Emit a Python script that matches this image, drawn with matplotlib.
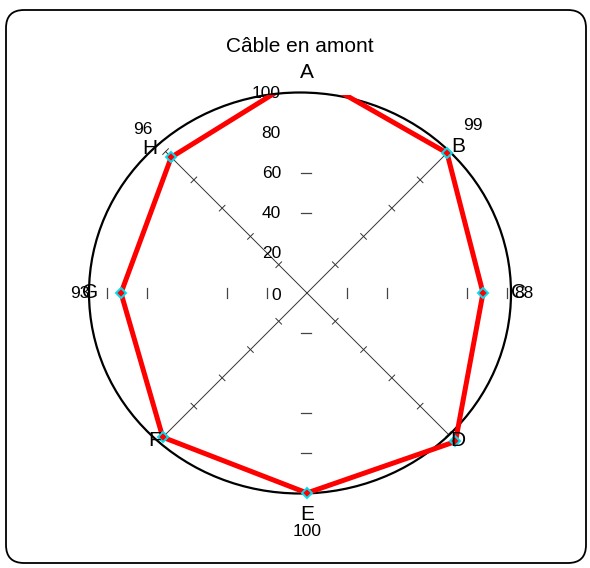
import matplotlib
matplotlib.use('Agg')
import numpy as np
import matplotlib.pyplot as plt
from matplotlib.patches import Ellipse, FancyBboxPatch, Rectangle

# Data
categories = ['A', 'B', 'C', 'D', 'E', 'F', 'G', 'H']
values = [110, 99, 88, 105, 100, 102, 93, 96]
angles_deg = [90, 45, 0, -45, -90, -135, 180, 135]
radial_ticks = [0, 20, 40, 60, 80, 100]
labelled = ['B', 'C', 'E', 'G', 'H']
title = 'Câble en amont'

plt.rcParams['font.family'] = ['Liberation Sans', 'DejaVu Sans']

fig = plt.figure(figsize=(5.9, 5.68), dpi=100)
ax = fig.add_axes([0, 0, 1, 1])
ax.set_xlim(-153.5, 141.5)
ax.set_ylim(-137.5, 146.5)
ax.axis('off')

# Rounded outer frame
frame = FancyBboxPatch((-150.5, -135), 290, 276.5,
                       boxstyle='round,pad=0,rounding_size=9',
                       fill=False, ec='black', lw=1.3)
ax.add_patch(frame)

# Outer ring
ax.add_patch(Ellipse((-3.5, 0), 211, 200.5, fill=False, ec='black', lw=1.6, zorder=3))

# Diagonal axes with cross ticks
for a in [45, -45, -135, 135]:
    t = np.radians(a)
    ux, uy = np.cos(t), np.sin(t)
    px, py = -uy, ux
    ax.plot([0, 100 * ux], [0, 100 * uy], color='#333333', lw=0.7, zorder=2)
    for r in radial_ticks[1:]:
        cx, cy = r * ux, r * uy
        ax.plot([cx - 2 * px, cx + 2 * px], [cy - 2 * py, cy + 2 * py],
                color='#333333', lw=0.7, zorder=2)

# Tick marks on the horizontal and vertical axes
for x in [-100, -80, -40, -20, 20, 40, 80, 100]:
    ax.plot([x, x], [-2.5, 2.5], color='#444444', lw=0.9, zorder=2)
for y in [60, 40, -20, -60, -80]:
    ax.plot([-3, 2], [y, y], color='#444444', lw=0.9, zorder=2)

# Radial tick labels
for v in radial_ticks:
    ax.text(-13, v - (1 if v == 0 else 0), str(v), ha='right', va='center',
            fontsize=12.5, color='black', zorder=4)

# Value polygon
th = np.radians(angles_deg)
vals = np.array(values, dtype=float)
xs = vals * np.cos(th)
ys = vals * np.sin(th)
clip = Rectangle((-160, -150), 320, 249, transform=ax.transData)
line, = ax.plot(np.append(xs, xs[0]), np.append(ys, ys[0]), color='red', lw=3.6,
                solid_joinstyle='miter', zorder=5)
line.set_clip_path(clip)
mk, = ax.plot(xs, ys, ls='none', marker='D', ms=5.5, mfc='red', mec='#00e0f0',
              mew=1.4, zorder=6)
mk.set_clip_path(clip)

# Category labels
cat_pos = {'A': (0, 110), 'B': (75.5, 73), 'C': (105.5, 0), 'D': (75.5, -73.5),
           'E': (0, -111), 'F': (-76, -73.5), 'G': (-108.5, 0), 'H': (-78.5, 72.5)}
val_pos = {'B': (83, 84), 'C': (108.5, 0), 'E': (0, -119.5), 'G': (-113.5, 0), 'H': (-82, 81.5)}
for c, v in zip(categories, values):
    if c in labelled:
        x, y = val_pos[c]
        ax.text(x, y, str(v), ha='center', va='center', fontsize=12.5, zorder=7)
for c in categories:
    x, y = cat_pos[c]
    ax.text(x, y, c, ha='center', va='center', fontsize=15, zorder=8)

ax.text(-3.5, 123, title, ha='center', va='center', fontsize=15)

fig.savefig('out.png', dpi=100)
